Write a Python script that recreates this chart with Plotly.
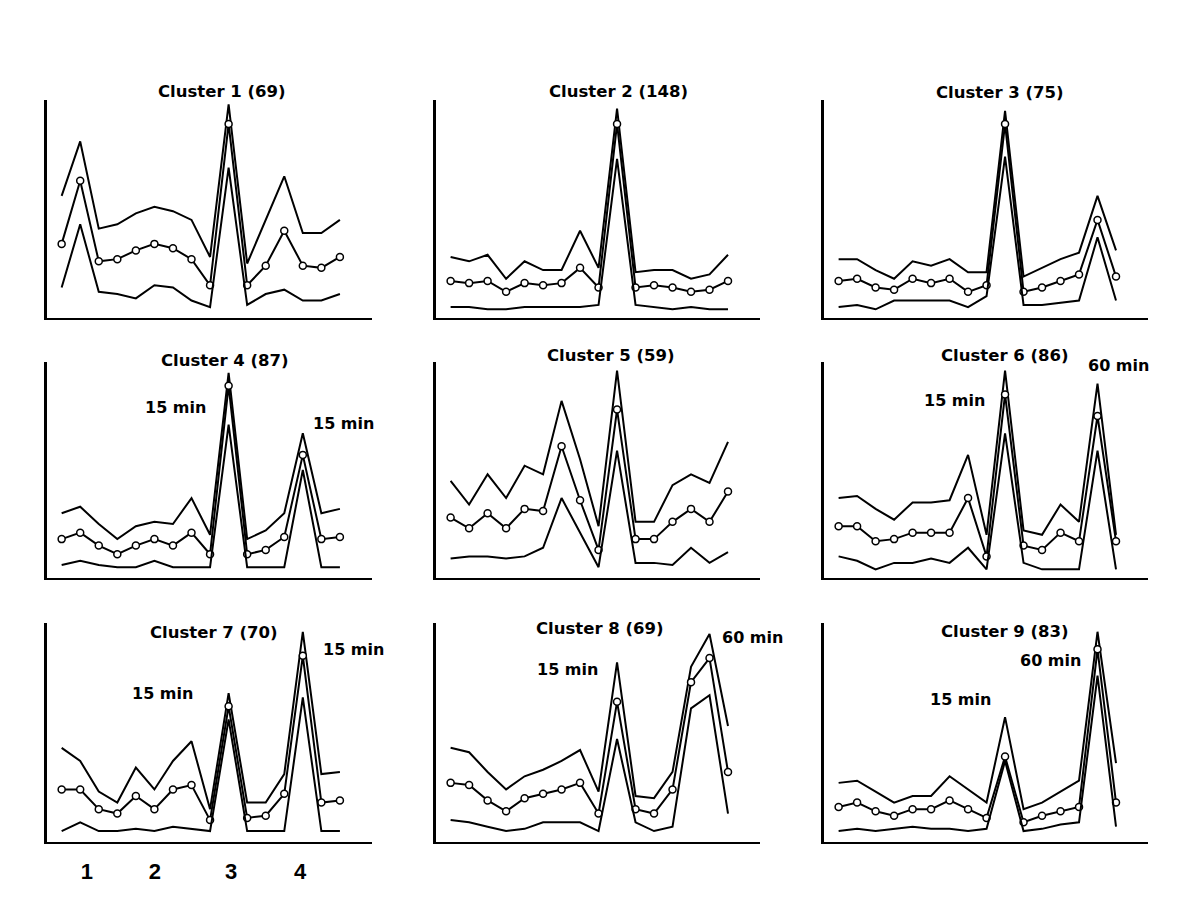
import plotly.graph_objects as go

# sample index along the time course (16 samples: conditions 1-4)
x_idx = list(range(16))

cluster_titles = ["Cluster 1 (69)", "Cluster 2 (148)", "Cluster 3 (75)",
                  "Cluster 4 (87)", "Cluster 5 (59)", "Cluster 6 (86)",
                  "Cluster 7 (70)", "Cluster 8 (69)", "Cluster 9 (83)"]

# upper / mean / lower profiles (relative units, 0-100)
upper_c1 = [56, 81, 41, 43, 48, 51, 49, 45, 28, 98, 25, 45, 65, 39, 39, 45]
mean_c1  = [34, 63, 26, 27, 31, 34, 32, 27, 15, 89, 15, 24, 40, 24, 23, 28]
lower_c1 = [14, 43, 12, 11, 9, 15, 14, 8, 5, 69, 6, 11, 13, 8, 8, 11]

upper_c2 = [28, 26, 29, 18, 26, 22, 22, 40, 23, 96, 21, 22, 22, 18, 20, 29]
mean_c2  = [17, 16, 17, 12, 16, 15, 16, 23, 14, 89, 14, 15, 14, 12, 13, 17]
lower_c2 = [5, 5, 4, 4, 5, 5, 5, 5, 6, 73, 6, 5, 4, 5, 4, 4]

upper_c3 = [27, 27, 22, 18, 26, 24, 27, 21, 21, 95, 19, 23, 27, 30, 56, 31]
mean_c3  = [17, 18, 14, 13, 18, 16, 18, 12, 15, 89, 12, 14, 17, 20, 45, 19]
lower_c3 = [5, 6, 4, 8, 8, 8, 8, 5, 10, 74, 6, 6, 7, 8, 37, 8]

upper_c4 = [30, 33, 25, 18, 24, 26, 25, 37, 20, 95, 18, 22, 30, 67, 30, 32]
mean_c4  = [18, 21, 15, 11, 15, 18, 15, 21, 11, 89, 11, 13, 19, 57, 18, 19]
lower_c4 = [6, 8, 6, 5, 5, 8, 5, 5, 5, 71, 5, 5, 5, 50, 5, 5]

upper_c5 = [45, 34, 48, 37, 52, 48, 82, 55, 24, 96, 26, 26, 43, 48, 44, 63]
mean_c5  = [28, 23, 30, 23, 32, 31, 61, 36, 13, 78, 18, 18, 26, 32, 26, 40]
lower_c5 = [9, 10, 10, 9, 10, 14, 37, 21, 5, 59, 7, 7, 6, 14, 7, 12]

upper_c6 = [37, 38, 32, 27, 35, 35, 36, 57, 20, 96, 22, 20, 34, 26, 90, 20]
mean_c6  = [24, 24, 17, 18, 21, 21, 21, 37, 10, 85, 15, 13, 21, 17, 75, 17]
lower_c6 = [10, 8, 4, 7, 7, 9, 7, 14, 4, 67, 7, 4, 4, 4, 59, 4]

upper_c7 = [43, 37, 23, 18, 34, 24, 37, 46, 15, 68, 18, 18, 31, 96, 31, 32]
mean_c7  = [24, 24, 15, 13, 21, 15, 24, 26, 10, 62, 11, 12, 22, 85, 18, 19]
lower_c7 = [5, 9, 5, 5, 6, 5, 7, 6, 5, 56, 5, 5, 5, 66, 5, 5]

upper_c8 = [43, 41, 32, 24, 30, 33, 37, 42, 23, 82, 21, 20, 32, 80, 95, 53]
mean_c8  = [27, 26, 19, 14, 20, 22, 24, 27, 13, 64, 15, 13, 24, 73, 84, 32]
lower_c8 = [10, 9, 7, 5, 6, 9, 9, 9, 5, 47, 9, 5, 7, 61, 67, 13]

upper_c9 = [27, 28, 23, 18, 21, 21, 30, 24, 18, 57, 15, 18, 23, 28, 96, 36]
mean_c9  = [16, 18, 14, 12, 15, 15, 19, 15, 11, 39, 9, 12, 14, 16, 88, 18]
lower_c9 = [5, 6, 5, 6, 7, 6, 6, 5, 6, 37, 5, 6, 8, 9, 76, 7]

uppers = [upper_c1, upper_c2, upper_c3, upper_c4, upper_c5, upper_c6, upper_c7, upper_c8, upper_c9]
means = [mean_c1, mean_c2, mean_c3, mean_c4, mean_c5, mean_c6, mean_c7, mean_c8, mean_c9]
lowers = [lower_c1, lower_c2, lower_c3, lower_c4, lower_c5, lower_c6, lower_c7, lower_c8, lower_c9]

condition_labels = ["1", "2", "3", "4"]
condition_pos = [1.36, 5.03, 9.13, 12.85]

# page has an 8px body margin; build the figure in page pixel coordinates
OFF = 8
W, H = 1200 - 2 * OFF, 902 - 2 * OFF


def px_x(v):
    return (v - OFF) / W


def px_y(v):
    return 1 - (v - OFF) / H


col_px = [(47, 372), (436, 760), (824, 1148)]
row_px = [(100, 318), (362, 578), (623, 842)]

fig = go.Figure()
layout = dict(width=W, height=H, margin=dict(l=0, r=0, t=0, b=0),
              paper_bgcolor="white", plot_bgcolor="white", showlegend=False)

for i in range(9):
    r, c = divmod(i, 3)
    n = i + 1
    xa = "x" if n == 1 else f"x{n}"
    ya = "y" if n == 1 else f"y{n}"
    for series, is_mean in ((uppers[i], False), (means[i], True), (lowers[i], False)):
        fig.add_trace(go.Scatter(
            x=x_idx, y=series, xaxis=xa, yaxis=ya,
            mode="lines+markers" if is_mean else "lines",
            line=dict(color="black", width=2),
            marker=dict(symbol="circle", size=7, color="white",
                        line=dict(color="black", width=1.5)),
            hoverinfo="skip"))
    x0, x1 = col_px[c]
    y0, y1 = row_px[r]
    xkey = "xaxis" if n == 1 else f"xaxis{n}"
    ykey = "yaxis" if n == 1 else f"yaxis{n}"
    xaxis = dict(domain=[px_x(x0), px_x(x1)], anchor=ya, range=[-0.79, 16.73],
                 showgrid=False, zeroline=False, showline=True,
                 linecolor="black", linewidth=2, ticks="", showticklabels=False)
    if n == 7:
        xaxis.update(showticklabels=True, tickmode="array",
                     tickvals=condition_pos,
                     ticktext=[f"<b>{s}</b>" for s in condition_labels],
                     tickfont=dict(family="Liberation Sans", size=22, color="black"),
                     ticklabelstandoff=9)
    layout[xkey] = xaxis
    layout[ykey] = dict(domain=[px_y(y1), px_y(y0)], anchor=xa, range=[0, 100],
                        showgrid=False, zeroline=False, showline=True,
                        linecolor="black", linewidth=3, ticks="", showticklabels=False)

title_pos = [(222, 91), (618, 91), (1000, 92), (225, 360), (611, 356),
             (1005, 356), (214, 632), (600, 628), (1005, 631)]
annotations = []
for t, (px, py) in zip(cluster_titles, title_pos):
    annotations.append(dict(text=f"<b>{t}</b>", x=px_x(px), y=px_y(py),
                            xref="paper", yref="paper", showarrow=False,
                            xanchor="center", yanchor="middle",
                            font=dict(family="DejaVu Sans", size=16.5, color="black")))

time_labels = [("15 min", 175, 407), ("15 min", 343, 423),
               ("60 min", 1118, 365), ("15 min", 955, 400),
               ("15 min", 162, 693), ("15 min", 353, 649),
               ("60 min", 752, 637), ("15 min", 567, 669),
               ("60 min", 1050, 660), ("15 min", 960, 699)]
for t, px, py in time_labels:
    annotations.append(dict(text=f"<b>{t}</b>", x=px_x(px), y=px_y(py),
                            xref="paper", yref="paper", showarrow=False,
                            xanchor="center", yanchor="middle",
                            font=dict(family="DejaVu Sans", size=16, color="black")))

layout["annotations"] = annotations
fig.update_layout(**layout)

fig.write_html("out.html")
